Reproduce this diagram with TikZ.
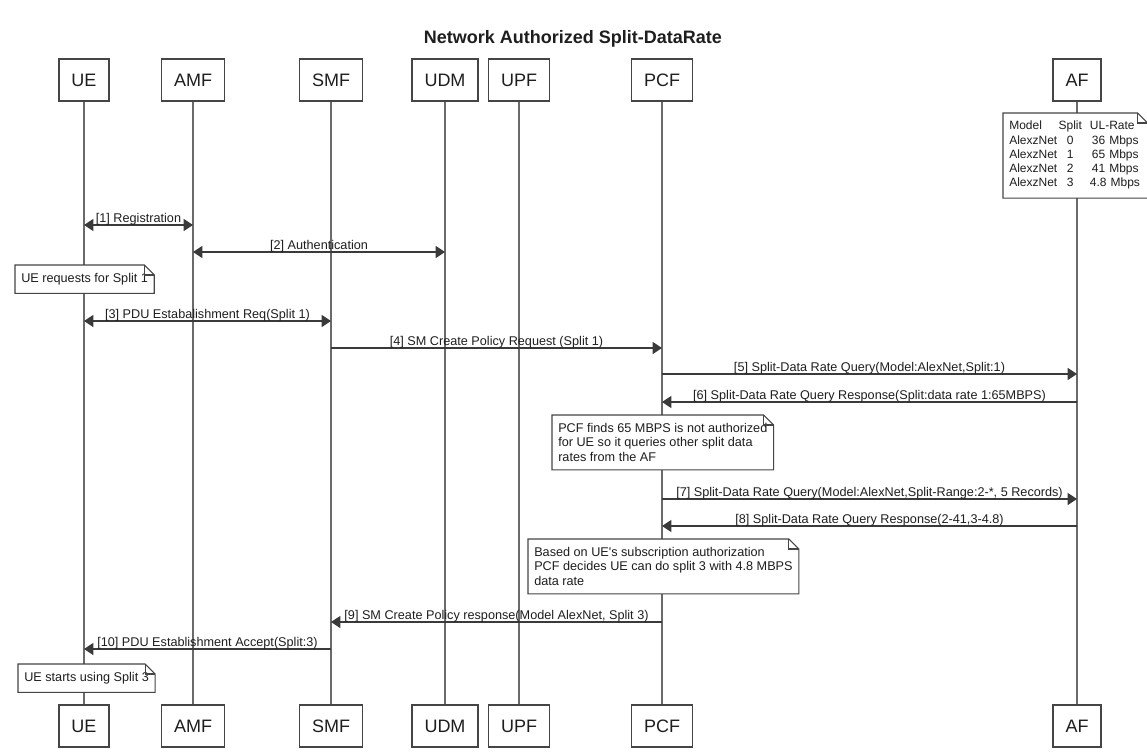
\documentclass[tikz,border=0pt]{standalone}
\usepackage{fontspec}
\setmainfont{Liberation Sans}
\usetikzlibrary{arrows.meta}

\definecolor{boxline}{HTML}{454545}
\definecolor{lifegray}{HTML}{6A6A6A}
\definecolor{msgline}{HTML}{3A3A3A}
\definecolor{inktext}{HTML}{1E1E1E}

\tikzset{
  seqhead/.tip={Triangle[length=7pt,width=9pt]},
  actor/.style={draw=boxline, line width=0.9pt, fill=white, text=inktext,
    font=\fontsize{13.5}{16}\selectfont, minimum height=31.5pt, inner xsep=9.4pt},
  lifeline/.style={draw=lifegray, line width=0.8pt},
  msg/.style={draw=msgline, line width=0.8pt, -seqhead},
  msgboth/.style={draw=msgline, line width=0.8pt, seqhead-seqhead},
  msgtxt/.style={above, inner sep=0pt, yshift=-0.3pt, text=inktext,
    font=\fontsize{9.5}{11}\selectfont},
  note/.style={fill=white, anchor=north west, align=left, text=inktext,
    inner xsep=4.5pt, inner ysep=6pt, font=\fontsize{9.5}{10.9}\selectfont},
  notepen/.style={draw=boxline, line width=0.8pt}
}

% outline of a note with a folded top right corner
\newcommand{\foldnote}[1]{%
  \draw[notepen] (#1.south west) -- (#1.north west) -- ([xshift=-7.5pt]#1.north east)
    -- ([yshift=-7.5pt]#1.north east) -- (#1.south east) -- cycle;
  \draw[notepen] ([xshift=-7.5pt]#1.north east) |- ([yshift=-7.5pt]#1.north east);}

\begin{document}
\begin{tikzpicture}[x=0.75pt, y=-0.75pt]
    \useasboundingbox (0,0) rectangle (1147,753);

    % Title
    \node[font=\bfseries\fontsize{13.5}{16}\selectfont, text=inktext] (title) at (573,39)
        {Network Authorized Split-DataRate};

    % Participants, top and bottom
    \foreach \name/\x/\label in {ue/84/UE, amf/193/AMF, smf/331/SMF, udm/445/UDM,
                                 upf/519/UPF, pcf/662/PCF, af/1077/AF} {
        \node[actor] (\name) at (\x,80) {\label};
        \node[actor] (\name-end) at (\x,726) {\label};
        \draw[lifeline] (\name) -- (\name-end);
    }

    % Message rows (y in pixels)
    \coordinate (m1) at (0,225);
    \coordinate (m2) at (0,252);
    \coordinate (m3) at (0,321);
    \coordinate (m4) at (0,348);
    \coordinate (m5) at (0,374);
    \coordinate (m6) at (0,402);
    \coordinate (m7) at (0,499);
    \coordinate (m8) at (0,526);
    \coordinate (m9) at (0,622);
    \coordinate (m10) at (0,649);

    % AF table note
    \node[note, inner ysep=5pt, text width=99pt, font=\fontsize{9}{10.7}\selectfont] (ratenote) at (1003,113) {%
        \begin{tabular}{@{}l@{\hspace{1pt}}c@{\hspace{6pt}}l@{}}
        Model & Split & UL-Rate\\
        AlexzNet & 0 & \,36 Mbps\\
        AlexzNet & 1 & \,65 Mbps\\
        AlexzNet & 2 & \,41 Mbps\\
        AlexzNet & 3 & 4.8 Mbps
        \end{tabular}};
    \foldnote{ratenote}

    % Registration and authentication
    \draw[msgboth] (ue |- m1) -- node[msgtxt] {[1] Registration} (amf |- m1);
    \draw[msgboth] (amf |- m2) -- node[msgtxt] {[2] Authentication} (udm |- m2);

    \node[note] (uereq) at (15,265) {UE requests for Split 1};
    \foldnote{uereq}

    % PDU session and policy
    \draw[msgboth] (ue |- m3) -- node[msgtxt] {[3] PDU Estabalishment Req(Split 1)} (smf |- m3);
    \draw[msg] (smf |- m4) -- node[msgtxt] {[4] SM Create Policy Request (Split 1)} (pcf |- m4);
    \draw[msg] (pcf |- m5) -- node[msgtxt] {[5] Split-Data Rate Query(Model:AlexNet,Split:1)} (af |- m5);
    \draw[msg] (af |- m6) -- node[msgtxt] {[6] Split-Data Rate Query Response(Split:data rate 1:65MBPS)} (pcf |- m6);

    \node[note] (pcfnote) at (552,415) {PCF finds 65 MBPS is not authorized\\for UE so it queries other split data\\rates from the AF};
    \foldnote{pcfnote}

    \draw[msg] (pcf |- m7) -- node[msgtxt] {[7] Split-Data Rate Query(Model:AlexNet,Split-Range:2-*, 5 Records)} (af |- m7);
    \draw[msg] (af |- m8) -- node[msgtxt] {[8] Split-Data Rate Query Response(2-41,3-4.8)} (pcf |- m8);

    \node[note] (decide) at (528,539) {Based on UE\textquotesingle s subscription authorization\\PCF decides UE can do split 3 with 4.8 MBPS\\data rate};
    \foldnote{decide}

    \draw[msg] (pcf |- m9) -- node[msgtxt] {[9] SM Create Policy response(Model AlexNet, Split 3)} (smf |- m9);
    \draw[msg] (smf |- m10) -- node[msgtxt] {[10] PDU Establishment Accept(Split:3)} (ue |- m10);

    \node[note] (uestart) at (18,664) {UE starts using Split 3};
    \foldnote{uestart}
\end{tikzpicture}
\end{document}
